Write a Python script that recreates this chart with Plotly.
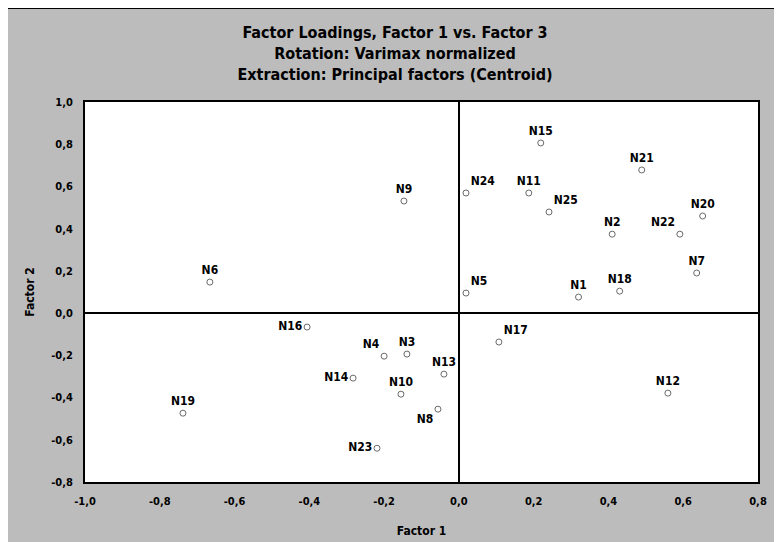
import plotly.graph_objects as go

labels = ["N1", "N2", "N3", "N4", "N5", "N6", "N7", "N8", "N9", "N10",
          "N11", "N12", "N13", "N14", "N15", "N16", "N17", "N18", "N19", "N20",
          "N21", "N22", "N23", "N24", "N25"]
factor1 = [0.32, 0.41, -0.139, -0.20, 0.019, -0.666, 0.636, -0.056, -0.147, -0.155,
           0.187, 0.559, -0.04, -0.283, 0.219, -0.406, 0.107, 0.43, -0.738, 0.652,
           0.489, 0.591, -0.219, 0.019, 0.241]
factor2 = [0.076, 0.374, -0.194, -0.204, 0.095, 0.147, 0.19, -0.455, 0.531, -0.384,
           0.569, -0.379, -0.289, -0.308, 0.806, -0.066, -0.137, 0.104, -0.474, 0.46,
           0.678, 0.374, -0.64, 0.569, 0.479]
text_pos = ["top center", "top center", "top center", "top left", "top right",
            "top center", "top center", "bottom left", "top center", "top center",
            "top center", "top center", "top center", "middle left", "top center",
            "middle left", "top right", "top center", "top center", "top center",
            "top center", "top left", "middle left", "top right", "top right"]

tick_vals_x = [-1.0, -0.8, -0.6, -0.4, -0.2, 0.0, 0.2, 0.4, 0.6, 0.8]
tick_text_x = ["-1,0", "-0,8", "-0,6", "-0,4", "-0,2", "0,0", "0,2", "0,4", "0,6", "0,8"]
tick_vals_y = [-0.8, -0.6, -0.4, -0.2, 0.0, 0.2, 0.4, 0.6, 0.8, 1.0]
tick_text_y = ["-0,8", "-0,6", "-0,4", "-0,2", "0,0", "0,2", "0,4", "0,6", "0,8", "1,0"]

FONT = "Liberation Sans Narrow, DejaVu Sans Condensed, Arial Narrow, Liberation Sans, sans-serif"
GRAY = "#bcbcbc"

fig = go.Figure()
fig.add_trace(go.Scatter(
    x=factor1, y=factor2, mode="markers+text",
    text=["<b>%s</b>" % t for t in labels],
    textposition=text_pos,
    textfont=dict(family=FONT, size=12, color="#000000"),
    marker=dict(symbol="circle-open", size=6, color="#6a6a6a", line=dict(width=1)),
    cliponaxis=False,
    showlegend=False,
))

# page has an 8px body margin; figure sized to fill the rest of the window
W, H = 774, 534
ml, mr, mt, mb = 77, 24, 94, 60
pw, ph = W - ml - mr, H - mt - mb

def px(xp):
    return (xp - ml) / pw

def py(yp):
    return (H - mb - yp) / ph

fig.update_layout(
    width=W, height=H,
    margin=dict(l=ml, r=mr, t=mt, b=mb, autoexpand=False),
    paper_bgcolor=GRAY,
    plot_bgcolor="#ffffff",
    font=dict(family=FONT, color="#000000"),
    title=dict(
        text="<b>Factor Loadings, Factor 1 vs. Factor 3</b><br><b>Rotation: Varimax normalized</b><br><b>Extraction: Principal factors (Centroid)</b>",
        x=0.5, xanchor="center", y=0.944, yanchor="top",
        font=dict(family=FONT, size=16, color="#000000"),
    ),
    xaxis=dict(
        range=[-1.0, 0.8], tickvals=tick_vals_x, ticktext=["<b>%s</b>" % t for t in tick_text_x],
        tickfont=dict(family=FONT, size=11), showgrid=False,
        zeroline=True, zerolinecolor="#000000", zerolinewidth=2,
        showline=True, linecolor="#000000", linewidth=2, mirror=True,
        ticks="", ticklabelstandoff=8, automargin=False,
        title=dict(text="<b>Factor 1</b>", font=dict(family=FONT, size=12), standoff=19),
    ),
    yaxis=dict(
        range=[-0.8, 1.0], tickvals=tick_vals_y, ticktext=["<b>%s</b>" % t for t in tick_text_y],
        tickfont=dict(family=FONT, size=11), showgrid=False,
        zeroline=True, zerolinecolor="#000000", zerolinewidth=2,
        showline=True, linecolor="#000000", linewidth=2, mirror=True,
        ticks="", ticklabelstandoff=8, automargin=False,
        title=dict(text="<b>Factor 2</b>", font=dict(family=FONT, size=12), standoff=14),
    ),
    shapes=[
        dict(type="line", xref="paper", yref="paper", x0=px(0), x1=px(W), y0=py(0), y1=py(0),
             line=dict(color="#000000", width=2), layer="above"),
    ],
)

fig.write_html("out.html")
